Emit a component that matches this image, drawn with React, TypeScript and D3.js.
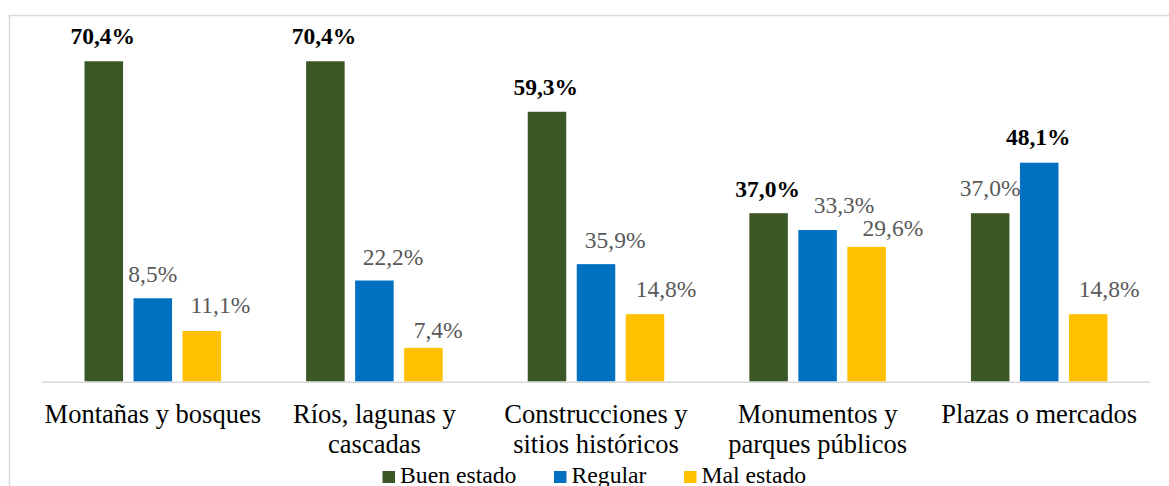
import React from "react";
import * as d3 from "d3";

const categories = [
  "Montañas y bosques",
  "Ríos, lagunas y cascadas",
  "Construcciones y sitios históricos",
  "Monumentos y parques públicos",
  "Plazas o mercados",
];
const categoryLines = [
  ["Montañas y bosques"],
  ["Ríos, lagunas y", "cascadas"],
  ["Construcciones y", "sitios históricos"],
  ["Monumentos y", "parques públicos"],
  ["Plazas o mercados"],
];
const seriesNames = ["Buen estado", "Regular", "Mal estado"];
const seriesColors = ["#3B5726", "#0070C0", "#FFC000"];

// bar heights as drawn in the picture
const buenEstado = [70.4, 70.4, 59.3, 37.0, 37.0];
const regular = [18.3, 22.2, 25.8, 33.3, 48.1];
const malEstado = [11.1, 7.4, 14.8, 29.6, 14.8];

// printed data labels
const buenEstadoLabels = [70.4, 70.4, 59.3, 37.0, 37.0];
const regularLabels = [8.5, 22.2, 35.9, 33.3, 48.1];
const malEstadoLabels = [11.1, 7.4, 14.8, 29.6, 14.8];

// label nudges (layout)
const labelDx = [
  [-1, -1.4, -1.3, -1, 0],
  [0, 18.6, 19.2, 26.5, -1],
  [18.5, 14.7, 21, 26.3, 21],
];
const labelGap = [
  [17.3, 17.3, 17, 16.6, 17.3],
  [16.6, 16, 16.3, 17, 17.3],
  [17.7, 9.8, 17.3, 10.6, 17.3],
];

const W = 1169;
const H = 486;
const FONT = "'Liberation Serif', 'Times New Roman', serif";

export default function App() {
  const values = [buenEstado, regular, malEstado];
  const labels = [buenEstadoLabels, regularLabels, malEstadoLabels];

  const x0 = d3.scaleBand<string>().domain(categories).range([42, 1150]).padding(0);
  const x1 = d3
    .scaleBand<string>()
    .domain(seriesNames)
    .range([0, x0.bandwidth()])
    .paddingInner(0.214)
    .paddingOuter(0.868);
  const y = d3.scaleLinear().domain([0, 80]).range([381.5, 17.6]);
  const fmt = (v: number) => d3.format(".1f")(v).replace(".", ",") + "%";

  const legendItems = [
    { marker: 382.5, text: 400 },
    { marker: 554, text: 571.5 },
    { marker: 684, text: 701.5 },
  ];

  return (
    <svg
      width={W}
      height={H}
      style={{ position: "absolute", left: 0, top: 0, background: "#fff" }}
      fontFamily={FONT}
    >
      <rect x={0} y={0} width={W} height={H} fill="#fff" />
      <rect x={9.5} y={15.5} width={1300} height={600} fill="none" stroke="#d9d9d9" strokeWidth={1.5} />

      {categories.map((c, ci) =>
        seriesNames.map((s, si) => {
          const v = values[si][ci];
          const bx = (x0(c) as number) + (x1(s) as number);
          const top = y(v);
          return (
            <rect
              key={c + s}
              x={bx}
              y={top}
              width={x1.bandwidth()}
              height={y(0) - top}
              fill={seriesColors[si]}
            />
          );
        })
      )}

      <line x1={42} x2={1150} y1={382.3} y2={382.3} stroke="#d9d9d9" strokeWidth={1.5} />

      {categories.map((c, ci) => {
        const groupMax = d3.max(labels, (l) => l[ci]) as number;
        return seriesNames.map((s, si) => {
          const lv = labels[si][ci];
          const bold = lv === groupMax;
          const cx = (x0(c) as number) + (x1(s) as number) + x1.bandwidth() / 2 + labelDx[si][ci];
          const by = y(values[si][ci]) - labelGap[si][ci];
          return (
            <text
              key={"l" + c + s}
              x={cx}
              y={by}
              textAnchor="middle"
              fontSize={23.5}
              fontWeight={bold ? "bold" : "normal"}
              fill={bold ? "#000" : "#595959"}
            >
              {fmt(lv)}
            </text>
          );
        });
      })}

      {categories.map((c, ci) => (
        <text
          key={"c" + c}
          x={(x0(c) as number) + x0.bandwidth() / 2}
          y={422.7}
          textAnchor="middle"
          fontSize={26.5}
          fill="#000"
        >
          {categoryLines[ci].map((line, li) => (
            <tspan key={li} x={(x0(c) as number) + x0.bandwidth() / 2} dy={li === 0 ? 0 : 30}>
              {line}
            </tspan>
          ))}
        </text>
      ))}

      {seriesNames.map((s, si) => (
        <g key={"lg" + s}>
          <rect x={legendItems[si].marker} y={471} width={12.5} height={12} fill={seriesColors[si]} />
          <text x={legendItems[si].text} y={483} fontSize={23.7} fill="#000">
            {s}
          </text>
        </g>
      ))}
    </svg>
  );
}
